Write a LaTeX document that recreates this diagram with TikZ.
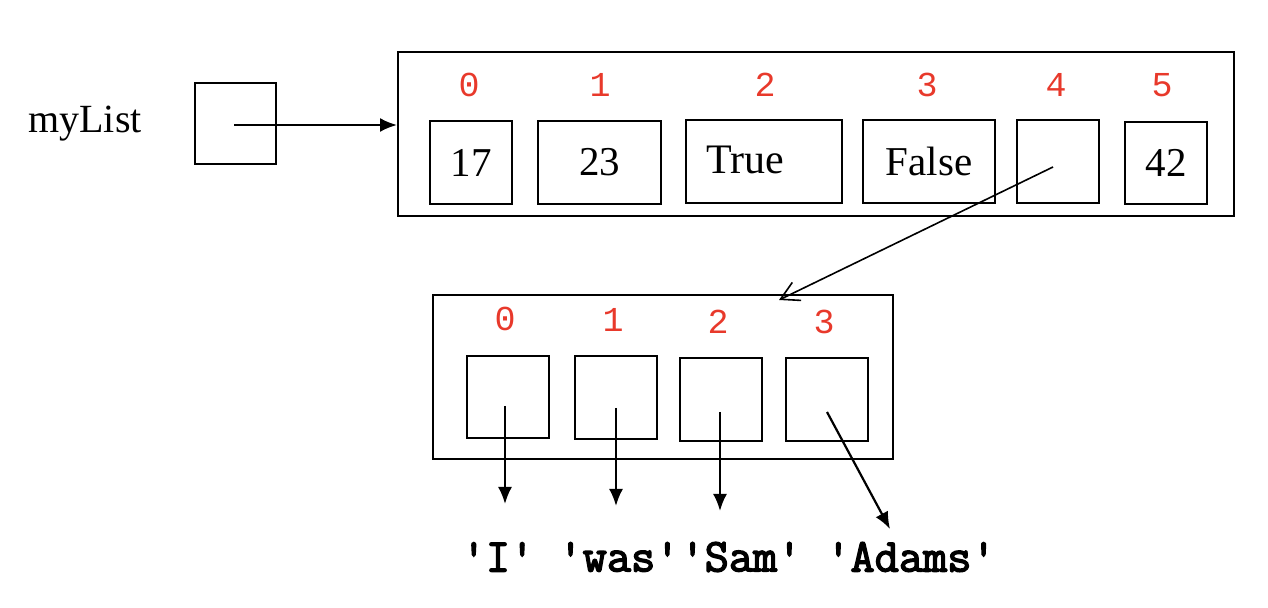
\documentclass[tikz,border=0pt]{standalone}
\usepackage{fontspec}
\setmainfont{Liberation Serif}
\newfontfamily\idxfont{Liberation Mono}
\newfontfamily\strfont{Latin Modern Mono}[FakeBold=3]
\usetikzlibrary{arrows.meta}
\definecolor{idxred}{RGB}{232,57,43}
\begin{document}
\begin{tikzpicture}[x=0.5pt,y=-0.5pt,
  frame/.style={draw, line width=1pt, inner sep=0pt},
  cell/.style={frame, minimum width=41pt, minimum height=41.5pt, font=\fontsize{20.5}{20.5}\selectfont},
  idx/.style={text=idxred, font=\idxfont\fontsize{17.5}{17.5}\selectfont, inner sep=0pt},
  ptr/.style={line width=1.1pt, -{Latex[length=8.5pt,width=7pt]}},
  str/.style={font=\strfont\fontsize{23.5}{23.5}\selectfont, inner sep=0pt}]
\useasboundingbox (0,0) rectangle (1268,608);

% variable name and its reference cell
\node[font=\fontsize{20}{20}\selectfont] (name) at (85,124) {myList};
\node[frame, minimum width=40.5pt, minimum height=40.5pt] (p) at (235.5,123.5) {};

% outer list
\node[frame, minimum width=418pt, minimum height=82pt] (A) at (816,134) {};
\node[cell] (a0) at (471,162.5) {17};
\node[cell, minimum width=61.5pt] (a1) at (599.5,162.5) {23};
\node[cell, minimum width=78pt] (a2) at (764,161.5) {};
\node[font=\fontsize{21}{21}\selectfont, inner sep=0pt] (t2) at (745,160) {True};
\node[cell, minimum width=66pt] (a3) at (929,161.5) {False};
\node[cell] (a4) at (1058,161.5) {};
\node[cell, minimum height=41pt] (a5) at (1166,163) {42};

\node[idx] (i0) at (469,85) {0};
\node[idx] (i1) at (600,85) {1};
\node[idx] (i2) at (765,85) {2};
\node[idx] (i3) at (927,85) {3};
\node[idx] (i4) at (1056,85) {4};
\node[idx] (i5) at (1162,85) {5};

% inner list
\node[frame, minimum width=230pt, minimum height=82pt] (B) at (663,377) {};
\node[cell, minimum height=41pt] (b0) at (507.5,397) {};
\node[cell] (b1) at (615.5,398) {};
\node[cell] (b2) at (720.5,399.5) {};
\node[cell] (b3) at (826.5,399.5) {};

\node[idx] (j0) at (505,319) {0};
\node[idx] (j1) at (613,320) {1};
\node[idx] (j2) at (718,322) {2};
\node[idx] (j3) at (824,322) {3};

% string objects
\node[str] (w0) at (498,557) {'I'};
\node[str] (w1) at (619,557) {'was'};
\node[str] (w2) at (741,557) {'Sam'};
\node[str] (w3) at (911,557) {'Adams'};

% reference origins and targets
\coordinate (ps) at (234,125);
\coordinate (q4) at (1053,167);
\coordinate (bt) at (779,300);
\coordinate (s0) at (505,406);
\coordinate (s1) at (616,408);
\coordinate (s2) at (720,412);
\coordinate (s3) at (827,412);
\coordinate (e0) at (505,504);
\coordinate (e1) at (616,506);
\coordinate (e2) at (720,511);
\coordinate (e3) at (890,529);

\draw[ptr] (ps) -- (ps -| A.west);
\draw[line width=0.8pt, -{Straight Barb[length=9pt,width=10pt]}] (q4) -- (bt);
\draw[ptr] (s0) -- (e0);
\draw[ptr] (s1) -- (e1);
\draw[ptr] (s2) -- (e2);
\draw[ptr] (s3) -- (e3);
\end{tikzpicture}
\end{document}
